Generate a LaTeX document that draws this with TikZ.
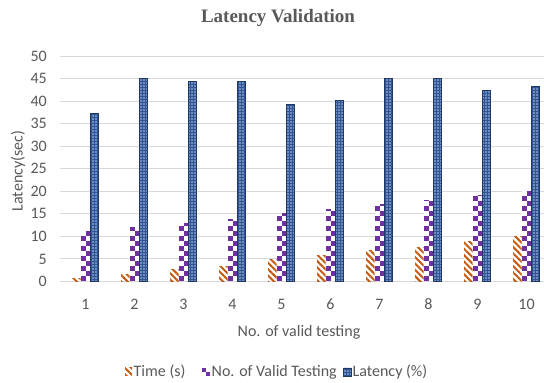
\documentclass[tikz,border=0pt]{standalone}
\usepackage{fontspec}
\setmainfont{Carlito}
\newfontfamily\titlefont{Liberation Serif}
\usetikzlibrary{patterns.meta}
\definecolor{txtgray}{HTML}{595959}
\definecolor{gridgray}{HTML}{D9D9D9}
\definecolor{timeorange}{HTML}{C55A11}
\definecolor{validpurple}{HTML}{7030A0}
\definecolor{latblue}{HTML}{2F5597}
\definecolor{latdot}{HTML}{B4C7E7}
\definecolor{latborder}{HTML}{1F3864}

\begin{document}
\begin{tikzpicture}[x=1pt,y=1pt,
  gridline/.style={draw=gridgray, line width=0.9pt},
  axistext/.style={text=txtgray, font=\fontsize{16}{16}\selectfont, inner sep=0pt},
  timefill/.style={preaction={fill=white}, pattern={Lines[angle=-45,distance=4.5pt,line width=2pt]}, pattern color=timeorange},
  latfill/.style={preaction={fill=latblue}, pattern={Dots[distance=3pt,radius=0.8pt]}, pattern color=latdot},
  latedge/.style={draw=latborder, line width=0.8pt},
]
\useasboundingbox (0,0) rectangle (544,383);
\fill[white] (0,0) rectangle (544,383);

% title
\node[text=txtgray, font=\titlefont\bfseries\fontsize{19}{19}\selectfont] (title) at (278,365) {Latency Validation};

% horizontal grid and value labels
\foreach \v in {0,5,...,50} {
  \draw[gridline] (60,{101.5+4.51*\v}) -- (544,{101.5+4.51*\v});
  \node[axistext, anchor=east] (ytick\v) at (47,{101.5+4.51*\v}) {\v};
}

% bars: index / time / valid testing / latency
\foreach \i/\t/\n/\l in {1/0.6/11/37.2, 2/1.5/12/45, 3/2.6/12.8/44.3,
    4/3.4/13.8/44.3, 5/4.9/15/39.2, 6/5.8/16/40.1, 7/6.9/17/45,
    8/7.6/18/45, 9/8.9/19/42.3, 10/10/20/43.2} {
  \pgfmathsetmacro{\cx}{85.5+49*(\i-1)}
  % time (s)
  \path[timefill] ({\cx-13.5},101.5) rectangle ({\cx-5},{101.5+4.51*\t});
  % no. of valid testing: checkerboard
  \begin{scope}
    \clip ({\cx-5},101.5) rectangle ({\cx+5},{101.5+4.51*\n});
    \fill[white] ({\cx-5},101.5) rectangle ({\cx+5},{101.5+4.51*\n});
    \foreach \r in {0,...,18} {
      \pgfmathsetmacro{\sx}{\cx-5+5*mod(\r,2)}
      \fill[validpurple] (\sx,{101.5+5*\r}) rectangle ({\sx+5},{106.5+5*\r});
    }
  \end{scope}
  % latency (%)
  \path[latfill, latedge] ({\cx+5},101.5) rectangle ({\cx+12.5},{101.5+4.51*\l});
  % category label
  \node[axistext] (xtick\i) at (\cx,79) {\i};
}

% axis titles
\node[axistext, rotate=90] (ytitle) at (18,212) {Latency(sec)};
\node[axistext] (xtitle) at (299,51) {No. of valid testing};

% legend
\path[timefill] (125,7) rectangle (132,15);
\node[axistext, anchor=west] (legtime) at (133.5,11) {Time (s)};
\fill[white] (202,7) rectangle (210,15);
\fill[validpurple] (202,11) rectangle (206,15);
\fill[validpurple] (206,7) rectangle (210,11);
\node[axistext, anchor=west] (legvalid) at (211.5,11) {No. of Valid Testing};
\path[latfill, latedge] (343,7) rectangle (351,15);
\node[axistext, anchor=west] (leglat) at (352.5,11) {Latency (\%)};
\end{tikzpicture}
\end{document}
